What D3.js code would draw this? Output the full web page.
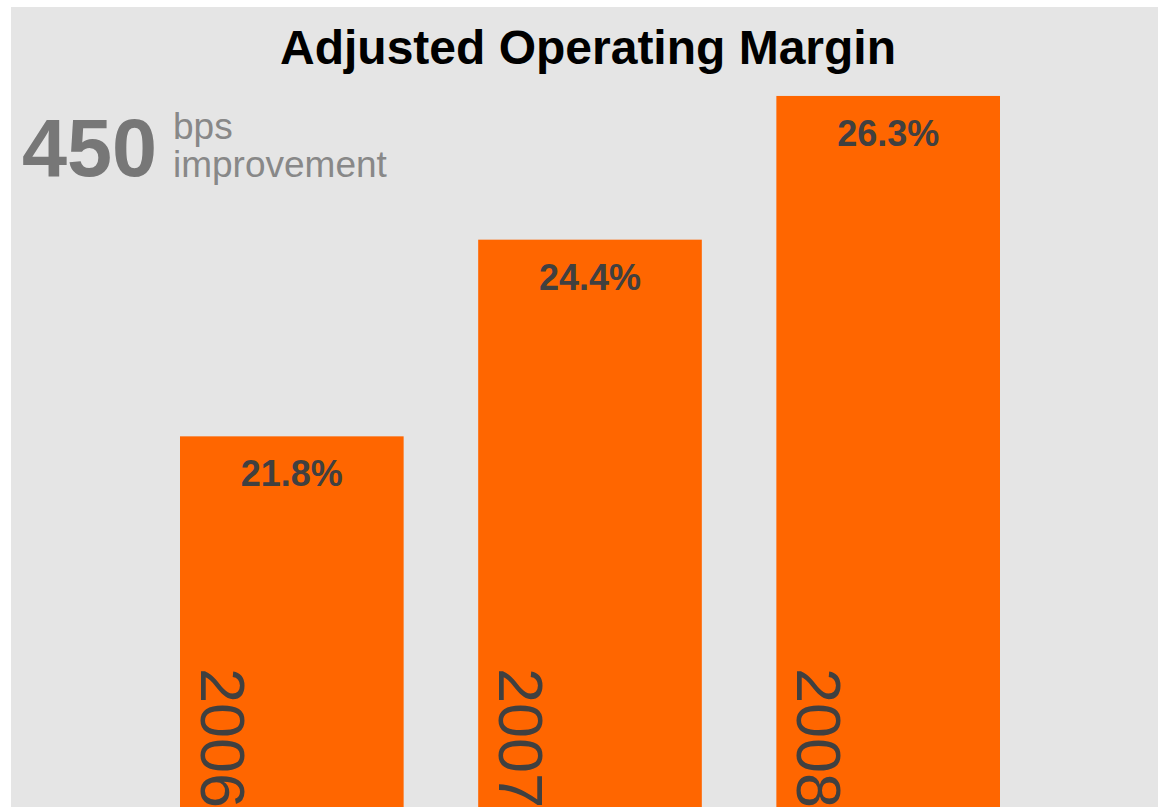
<!DOCTYPE html>
<html>
<head>
<meta charset="utf-8">
<script src="https://cdn.jsdelivr.net/npm/d3@7"></script>
<style>
  body { margin: 0; background: #ffffff; }
  #graf { width: 1158px; height: 807px; }
  text { font-family: Arial, 'Liberation Sans', sans-serif; }
</style>
</head>
<body>
<div id="graf"></div>
<script>
// Datos de la grafica
anios   = ['2006', '2007', '2008']
margenes = [21.8, 24.4, 26.3]
etiquetas = ['21.8%', '24.4%', '26.3%']
titulo_texto = 'Adjusted Operating Margin'
mejora_valor = '450'
mejora_texto = ['bps', 'improvement']

ancho_total = 1158
alto_total  = 807

graf = d3.select('#graf')

svg = graf.append('svg')
          .attr('width', ancho_total)
          .attr('height', alto_total)

// Fondo gris con borde blanco arriba e izquierda
svg.append('rect')
   .attr('x', 11)
   .attr('y', 7)
   .attr('width', ancho_total - 11)
   .attr('height', alto_total - 7)
   .style('fill', '#e5e5e5')

// Escaladores
x = d3.scaleBand()
      .domain(anios)
      .range([180, 1000])
      .paddingInner(0.25)
      .paddingOuter(0)

// el eje no empieza en cero, la base de las barras queda abajo fuera de la imagen
yMin = 16.9
y = d3.scaleLinear()
      .domain([yMin, 27])
      .range([alto_total, 43])

dataArray = anios.map((a, i) => ({ anio: a, valor: margenes[i], etiqueta: etiquetas[i] }))

// Barras
svg.selectAll('rect.barra')
   .data(dataArray)
   .enter()
   .append('rect')
   .attr('class', 'barra')
   .attr('x', d => x(d.anio))
   .attr('y', d => y(d.valor))
   .attr('width', x.bandwidth())
   .attr('height', d => y(yMin) - y(d.valor))
   .style('fill', '#ff6600')

// Etiquetas de valor
svg.selectAll('text.valor')
   .data(dataArray)
   .enter()
   .append('text')
   .attr('class', 'valor')
   .attr('x', d => x(d.anio) + x.bandwidth() / 2)
   .attr('y', d => y(d.valor) + 50)
   .attr('text-anchor', 'middle')
   .style('font-size', '36px')
   .style('font-weight', 'bold')
   .style('fill', '#404040')
   .text(d => d.etiqueta)

// Anios rotados dentro de la barra (eje x)
svg.selectAll('text.anio')
   .data(dataArray)
   .enter()
   .append('text')
   .attr('class', 'anio')
   .attr('transform', d => `translate(${ x(d.anio) + 21 }, 668) rotate(90)`)
   .style('font-size', '63px')
   .style('fill', '#404040')
   .text(d => d.anio)

// Titulo
svg.append('text')
   .attr('x', 588)
   .attr('y', 64)
   .attr('text-anchor', 'middle')
   .style('font-size', '48px')
   .style('font-weight', 'bold')
   .style('fill', '#000000')
   .text(titulo_texto)

// Nota de mejora
svg.append('text')
   .attr('x', 22)
   .attr('y', 176)
   .style('font-size', '81px')
   .style('font-weight', 'bold')
   .style('fill', '#777777')
   .text(mejora_valor)

svg.selectAll('text.mejora')
   .data(mejora_texto)
   .enter()
   .append('text')
   .attr('class', 'mejora')
   .attr('x', 173)
   .attr('y', (d, i) => 139 + i * 38)
   .style('font-size', '37px')
   .style('fill', '#888888')
   .text(d => d)
</script>
</body>
</html>
